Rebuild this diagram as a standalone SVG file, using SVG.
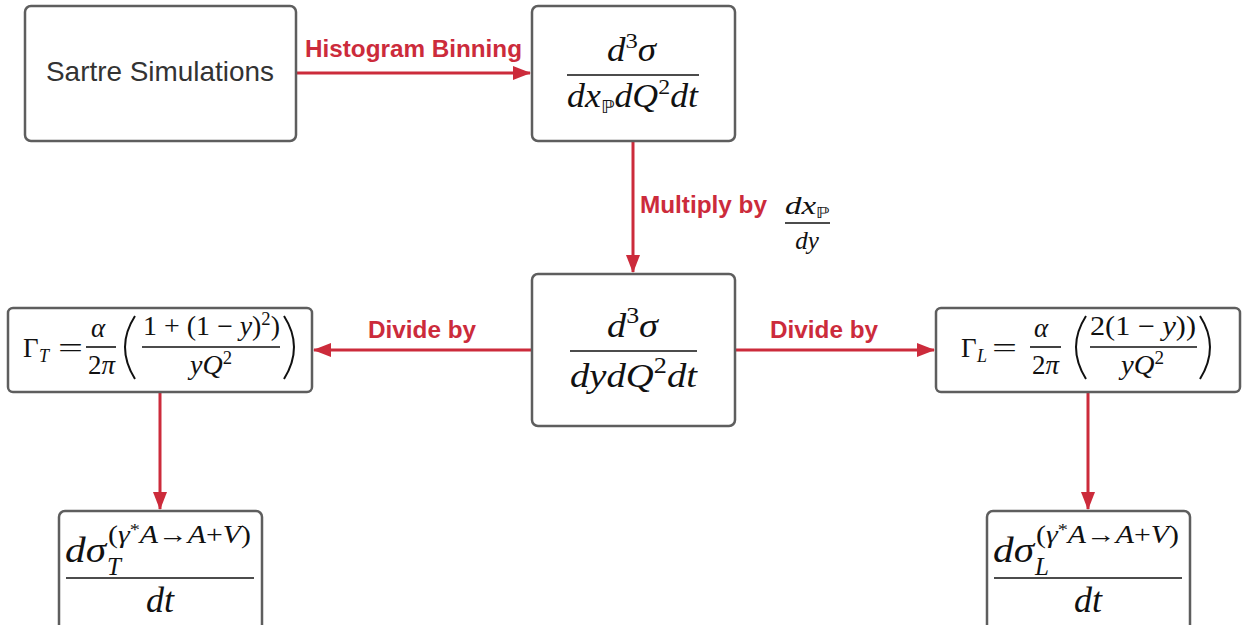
<svg xmlns="http://www.w3.org/2000/svg" width="1244" height="625" viewBox="0 0 1244 625">
<style>
.box{fill:#fff;stroke:#5e5e5e;stroke-width:2.5}
.edge{stroke:#cc2b3b;stroke-width:3;fill:none}
.lbl{font-family:"Liberation Sans",Arial,sans-serif;font-weight:bold;font-size:24px;fill:#cc2b3b}
.m{font-family:"Liberation Serif","DejaVu Serif",serif;fill:#111}
.i{font-style:italic}
.bb{font-family:"DejaVu Sans",sans-serif;font-style:normal;fill:#111}
.bar{stroke:#111;stroke-width:1.6}
</style>
<defs>
<marker id="ah2" markerWidth="18" markerHeight="14" refX="17" refY="7" orient="auto" markerUnits="userSpaceOnUse" viewBox="0 0 18 14">
<path d="M0,0 L18,7 L0,14 Z" fill="#cc2b3b"/>
</marker>
</defs>
<rect width="1244" height="625" fill="#fff"/>

<g id="connectors">
<line class="edge" x1="296" y1="73" x2="530" y2="73" marker-end="url(#ah2)"/>
<line class="edge" x1="633" y1="142" x2="633" y2="272" marker-end="url(#ah2)"/>
<line class="edge" x1="531" y1="350" x2="314" y2="350" marker-end="url(#ah2)"/>
<line class="edge" x1="736" y1="350" x2="934" y2="350" marker-end="url(#ah2)"/>
<line class="edge" x1="160" y1="393" x2="160" y2="509" marker-end="url(#ah2)"/>
<line class="edge" x1="1088" y1="393" x2="1088" y2="509" marker-end="url(#ah2)"/>
<text class="lbl" x="305" y="57" textLength="217" lengthAdjust="spacingAndGlyphs">Histogram Binning</text>
<text class="lbl" x="640" y="213" textLength="127" lengthAdjust="spacingAndGlyphs">Multiply by</text>
<text class="m i" x="785" y="214" font-size="25" textLength="45" lengthAdjust="spacingAndGlyphs">dx<tspan class="bb" font-size="15" dy="4">ℙ</tspan></text>
<line class="bar" x1="785" y1="223" x2="830" y2="223" stroke-width="1.3"/>
<text class="m i" x="807" y="249" font-size="25" text-anchor="middle">dy</text>
<text class="lbl" x="368" y="338" textLength="108" lengthAdjust="spacingAndGlyphs">Divide by</text>
<text class="lbl" x="770" y="338" textLength="108" lengthAdjust="spacingAndGlyphs">Divide by</text>
</g>

<g id="sartre">
<rect class="box" x="25" y="6" width="271" height="135" rx="6"/>
<text x="46" y="81" font-family="Liberation Sans,Arial,sans-serif" font-size="28" fill="#333" textLength="228" lengthAdjust="spacingAndGlyphs">Sartre Simulations</text>
</g>

<g id="xsec-xp">
<rect class="box" x="532" y="6" width="203" height="135" rx="6"/>
<text class="m" x="607" y="61" font-size="33" textLength="49" lengthAdjust="spacingAndGlyphs"><tspan class="i">d</tspan><tspan font-size="22" dy="-13">3</tspan><tspan class="i" dy="13">σ</tspan></text>
<line class="bar" x1="567" y1="75" x2="699" y2="75"/>
<text class="m" x="567" y="107" font-size="33" textLength="131" lengthAdjust="spacingAndGlyphs"><tspan class="i">dx</tspan><tspan class="bb" font-size="18" dy="6">ℙ</tspan><tspan class="i" dy="-6">dQ</tspan><tspan font-size="22" dy="-13">2</tspan><tspan class="i" dy="13">dt</tspan></text>
</g>

<g id="xsec-y">
<rect class="box" x="532" y="274" width="203" height="152" rx="6"/>
<text class="m" x="607" y="337" font-size="34" textLength="51" lengthAdjust="spacingAndGlyphs"><tspan class="i">d</tspan><tspan font-size="23" dy="-14">3</tspan><tspan class="i" dy="14">σ</tspan></text>
<line class="bar" x1="570" y1="351" x2="697" y2="351"/>
<text class="m" x="570" y="387" font-size="34" textLength="127" lengthAdjust="spacingAndGlyphs"><tspan class="i">dydQ</tspan><tspan font-size="23" dy="-14">2</tspan><tspan class="i" dy="14">dt</tspan></text>
</g>

<g id="gamma-t">
<rect class="box" x="8" y="308" width="304" height="84" rx="5"/>
<text class="m" x="23" y="357" font-size="27">Γ</text>
<text class="m i" x="39" y="362" font-size="18">T</text>
<text class="m" x="58" y="357" font-size="27" textLength="25" lengthAdjust="spacingAndGlyphs">=</text>
<text class="m i" x="98" y="337" font-size="27" text-anchor="middle">α</text>
<line class="bar" x1="86" y1="347" x2="116" y2="347" stroke-width="1.4"/>
<text class="m" x="88" y="374" font-size="27" textLength="27" lengthAdjust="spacingAndGlyphs">2<tspan class="i">π</tspan></text>
<path d="M135,316 Q115,347 135,379" fill="none" stroke="#111" stroke-width="2"/>
<text class="m" x="143" y="335" font-size="27" textLength="137" lengthAdjust="spacingAndGlyphs">1 + (1 − <tspan class="i">y</tspan>)<tspan font-size="18" dy="-10">2</tspan><tspan dy="10">)</tspan></text>
<line class="bar" x1="142" y1="347" x2="280" y2="347" stroke-width="1.4"/>
<text class="m i" x="190" y="374" font-size="27" textLength="42" lengthAdjust="spacingAndGlyphs">yQ<tspan font-style="normal" font-size="18" dy="-10">2</tspan></text>
<path d="M284,316 Q304,347 284,379" fill="none" stroke="#111" stroke-width="2"/>
</g>

<g id="gamma-l">
<rect class="box" x="936" y="308" width="304" height="84" rx="5"/>
<text class="m" x="961" y="357" font-size="27">Γ</text>
<text class="m i" x="977" y="362" font-size="18">L</text>
<text class="m" x="992" y="357" font-size="27" textLength="25" lengthAdjust="spacingAndGlyphs">=</text>
<text class="m i" x="1041" y="337" font-size="27" text-anchor="middle">α</text>
<line class="bar" x1="1030" y1="347" x2="1061" y2="347" stroke-width="1.4"/>
<text class="m" x="1032" y="374" font-size="27" textLength="27" lengthAdjust="spacingAndGlyphs">2<tspan class="i">π</tspan></text>
<path d="M1086,316 Q1066,347 1086,379" fill="none" stroke="#111" stroke-width="2"/>
<text class="m" x="1090" y="335" font-size="27" textLength="106" lengthAdjust="spacingAndGlyphs">2(1 − <tspan class="i">y</tspan>))</text>
<line class="bar" x1="1090" y1="347" x2="1197" y2="347" stroke-width="1.4"/>
<text class="m i" x="1121" y="374" font-size="27" textLength="43" lengthAdjust="spacingAndGlyphs">yQ<tspan font-style="normal" font-size="18" dy="-10">2</tspan></text>
<path d="M1200,316 Q1220,347 1200,379" fill="none" stroke="#111" stroke-width="2"/>
</g>

<g id="dsigma-t">
<rect class="box" x="59" y="511" width="203" height="130" rx="6"/>
<text class="m i" x="65" y="562" font-size="36" textLength="41" lengthAdjust="spacingAndGlyphs">dσ</text>
<text class="m" x="108" y="543" font-size="25" textLength="143" lengthAdjust="spacingAndGlyphs">(<tspan class="i">γ</tspan><tspan font-size="17" dy="-8">*</tspan><tspan class="i" dy="8">A</tspan>→<tspan class="i">A</tspan>+<tspan class="i">V</tspan>)</text>
<text class="m i" x="107" y="575" font-size="25">T</text>
<line class="bar" x1="66" y1="578" x2="254" y2="578"/>
<text class="m i" x="160" y="612" font-size="36" text-anchor="middle">dt</text>
</g>

<g id="dsigma-l">
<rect class="box" x="987" y="511" width="203" height="130" rx="6"/>
<text class="m i" x="993" y="562" font-size="36" textLength="41" lengthAdjust="spacingAndGlyphs">dσ</text>
<text class="m" x="1036" y="543" font-size="25" textLength="143" lengthAdjust="spacingAndGlyphs">(<tspan class="i">γ</tspan><tspan font-size="17" dy="-8">*</tspan><tspan class="i" dy="8">A</tspan>→<tspan class="i">A</tspan>+<tspan class="i">V</tspan>)</text>
<text class="m i" x="1035" y="575" font-size="25">L</text>
<line class="bar" x1="994" y1="578" x2="1182" y2="578"/>
<text class="m i" x="1088" y="612" font-size="36" text-anchor="middle">dt</text>
</g>
</svg>
